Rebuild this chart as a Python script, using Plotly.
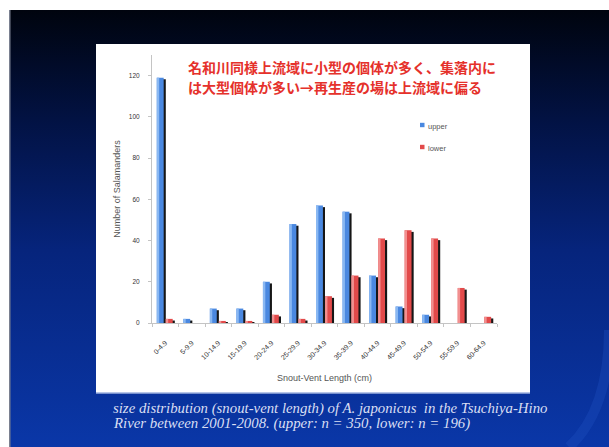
import base64
import plotly.graph_objects as go

# ---------------- data ----------------
categories = ["0-4.9", "5-9.9", "10-14.9", "15-19.9", "20-24.9", "25-29.9",
              "30-34.9", "35-39.9", "40-44.9", "45-49.9", "50-54.9", "55-59.9", "60-64.9"]
upper = [119, 2, 7, 7, 20, 48, 57, 54, 23, 8, 4, 0, 0]
lower = [2, 0, 1, 1, 4, 2, 13, 23, 41, 45, 41, 17, 3]
series_names = ["upper", "lower"]
y_ticks = [0, 20, 40, 60, 80, 100, 120]

title_lines = ["名和川同様上流域に小型の個体が多く、集落内に",
               "は大型個体が多い→再生産の場は上流域に偏る"]
caption_lines = ["size distribution (snout-vent length) of A. japonicus  in the Tsuchiya-Hino",
                 "River between 2001-2008. (upper: n = 350, lower: n = 196)"]

# ---------------- layout geometry (pixels) ----------------
W, H = 609, 447
PL, PR, PT, PB = 152, 497, 55, 323   # plot area edges


def px2x(px):
    return (px - PL) / (PR - PL)


def px2y(py):
    return (PB - py) / (PB - PT)


BLUE, BLUE_HI = "#4a88e0", "#8ab8f2"
RED, RED_HI = "#e24a4a", "#f29090"
SHADOW = "#161616"
BW = 0.26

fig = go.Figure()


def add_series(vals, color, hi, off):
    shadow_vals = [max(v - 0.8, 0) for v in vals]
    fig.add_trace(go.Bar(x=categories, y=shadow_vals, offset=off + 0.08, width=BW,
                         marker=dict(color=SHADOW, line=dict(width=0)),
                         showlegend=False, hoverinfo="skip"))
    fig.add_trace(go.Bar(x=categories, y=vals, offset=off, width=BW,
                         marker=dict(color=color, line=dict(width=0)),
                         showlegend=False))
    fig.add_trace(go.Bar(x=categories, y=vals, offset=off, width=0.09,
                         marker=dict(color=hi, line=dict(width=0)),
                         showlegend=False, hoverinfo="skip"))


add_series(upper, BLUE, BLUE_HI, -0.32)
add_series(lower, RED, RED_HI, 0.02)

# slide background as svg gradient
svg = ('<svg xmlns="http://www.w3.org/2000/svg" width="600" height="437" viewBox="0 0 600 437">'
       '<defs><linearGradient id="g" x1="0" y1="0" x2="0" y2="1">'
       '<stop offset="0" stop-color="#00040e"/>'
       '<stop offset="0.25" stop-color="#021243"/>'
       '<stop offset="0.55" stop-color="#06247c"/>'
       '<stop offset="1" stop-color="#0a37a8"/>'
       '</linearGradient></defs>'
       '<rect width="600" height="437" fill="url(#g)"/>'
       '<path d="M 560 437 Q 600 400 600 320" stroke="#2050c0" stroke-width="10" fill="none" opacity="0.35"/>'
       '<rect x="0" y="0" width="1.5" height="437" fill="#7a8090"/>'
       '</svg>')
src = "data:image/svg+xml;base64," + base64.b64encode(svg.encode()).decode()

images = [dict(source=src, xref="paper", yref="paper", x=px2x(9), y=px2y(10),
               sizex=px2x(609) - px2x(9), sizey=px2y(10) - px2y(447),
               xanchor="left", yanchor="top", sizing="stretch", layer="below")]

shapes = [
    dict(type="rect", xref="paper", yref="paper", x0=px2x(96), x1=px2x(530),
         y0=px2y(393), y1=px2y(44), fillcolor="white", line=dict(width=0), layer="below"),
    dict(type="line", xref="paper", yref="paper", x0=px2x(96), x1=px2x(530),
         y0=px2y(393), y1=px2y(393), line=dict(color="#9fb2df", width=1.5), layer="below"),
]

annotations = []
for i, t in enumerate(title_lines):
    annotations.append(dict(text=t, xref="paper", yref="paper", x=px2x(186), y=px2y(67 + 20 * i),
                            xanchor="left", yanchor="middle", showarrow=False,
                            font=dict(family="Noto Sans CJK JP", size=14, color="#e5312b", weight=600)))
for i, t in enumerate(caption_lines):
    annotations.append(dict(text=t, xref="paper", yref="paper", x=px2x(111),
                            y=px2y(408 + 15 * i), xanchor="left", yanchor="middle", showarrow=False,
                            font=dict(family="Liberation Serif", size=14.8,
                                      color="#d9dff3", style="italic")))

# manual legend
leg_colors = [BLUE, RED]
for i, name in enumerate(series_names):
    yc = 125 + 22 * i
    shapes.append(dict(type="rect", xref="paper", yref="paper", x0=px2x(420), x1=px2x(424.5),
                       y0=px2y(yc + 2.2), y1=px2y(yc - 2.2), fillcolor=leg_colors[i],
                       line=dict(width=0)))
    annotations.append(dict(text=name, xref="paper", yref="paper", x=px2x(425.5), y=px2y(yc + 1),
                            xanchor="left", yanchor="middle", showarrow=False,
                            font=dict(family="Liberation Sans", size=7.5, color="#555555")))

fig.update_layout(
    width=W, height=H,
    margin=dict(l=PL, r=W - PR, t=PT, b=H - PB, pad=0),
    paper_bgcolor="white", plot_bgcolor="rgba(0,0,0,0)",
    barmode="overlay", showlegend=False,
    images=images, shapes=shapes, annotations=annotations,
    font=dict(family="Liberation Sans", color="#444444"),
    xaxis=dict(type="category", categoryorder="array", categoryarray=categories,
               range=[-0.5, len(categories) - 0.5], showgrid=False, zeroline=False,
               showline=True, linecolor="#c4c4c4", linewidth=1,
               ticks="outside", tickson="boundaries", ticklen=3, tickcolor="#c4c4c4",
               tickangle=-45, tickfont=dict(size=7, color="#333333"), ticklabelstandoff=12,
               title=dict(text="Snout-Vent Length (cm)", font=dict(size=9, color="#555555"), standoff=14),
               automargin=False),
    yaxis=dict(range=[0, 130], tickvals=y_ticks, showgrid=False, zeroline=False,
               showline=True, linecolor="#c4c4c4", linewidth=1,
               ticks="outside", ticklen=3, tickcolor="#c4c4c4",
               tickfont=dict(size=6.5, color="#333333"), ticklabelstandoff=7,
               title=dict(text="Number of Salamanders", font=dict(size=9, color="#555555"), standoff=6),
               automargin=False),
)

fig.write_html("out.html")
